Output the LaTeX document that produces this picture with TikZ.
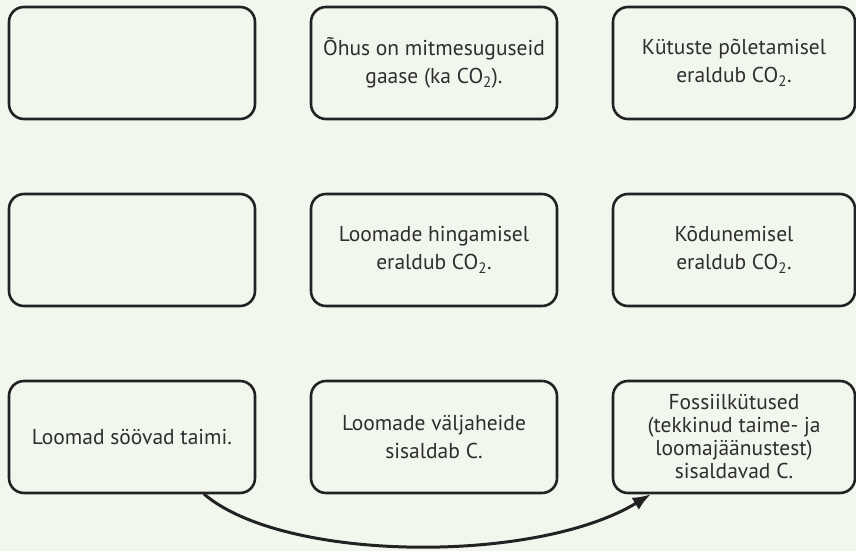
\documentclass[tikz,border=0pt]{standalone}
\usepackage{fontspec}
\setmainfont{PT Sans}
\usetikzlibrary{arrows.meta}
\definecolor{CycBack}{HTML}{F2F7EE}
\definecolor{CycLine}{HTML}{222222}
\definecolor{CycText}{HTML}{2E2E2E}

\begin{document}
\begin{tikzpicture}[x=1pt,y=-1pt,line cap=round,line join=round,
  cycbox/.style={draw=CycLine,line width=2.6pt,rounded corners=15pt,minimum width=246pt,minimum height=112pt,
    align=center,text=CycText,inner sep=2pt,font=\fontsize{21.5}{28}\selectfont},
  lastcol/.style={minimum width=242pt}]
  \useasboundingbox[fill=CycBack] (0,0) rectangle (856,551);
  \node[cycbox] (a1) at (132,63) {};
  \node[cycbox] (b1) at (434,63) {Õhus on mitmesuguseid\\gaase (ka CO\textsubscript{2}).};
  \node[cycbox,lastcol] (c1) at (734,63) {Kütuste põletamisel\\eraldub CO\textsubscript{2}.};
  \node[cycbox] (a2) at (132,250) {};
  \node[cycbox] (b2) at (434,250) {Loomade hingamisel\\eraldub CO\textsubscript{2}.};
  \node[cycbox,lastcol] (c2) at (734,250) {Kõdunemisel\\eraldub CO\textsubscript{2}.};
  \node[cycbox] (a3) at (132,437) {Loomad söövad taimi.};
  \node[cycbox] (b3) at (434,437) {Loomade väljaheide\\sisaldab C.};
  \node[cycbox,lastcol,font=\fontsize{21.5}{23}\selectfont] (c3) at (734,437) {Fossiilkütused\\(tekkinud taime- ja\\loomajäänustest)\\sisaldavad C.};
  \draw[-{Latex[length=18pt,width=14pt]},CycLine,line width=3pt]
    ([xshift=-52pt]a3.south east) .. controls +(80,68) and +(-115,70) .. ([xshift=39pt]c3.south west);
\end{tikzpicture}
\end{document}
